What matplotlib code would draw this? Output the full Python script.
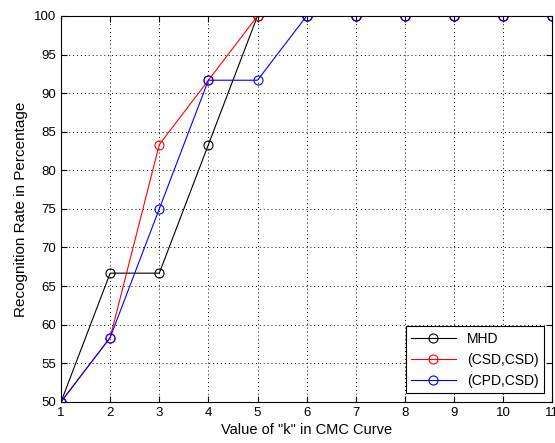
import matplotlib

matplotlib.use("Agg")
import matplotlib.pyplot as plt

k = [1, 2, 3, 4, 5, 6, 7, 8, 9, 10, 11]
mhd = [50, 66.67, 66.67, 83.33, 100, 100, 100, 100, 100, 100, 100]
csd_csd = [50, 58.33, 83.33, 91.67, 100, 100, 100, 100, 100, 100, 100]
cpd_csd = [50, 58.33, 75, 91.67, 91.67, 100, 100, 100, 100, 100, 100]

plt.rcParams.update({
    "font.family": ["Liberation Sans", "DejaVu Sans"],
    "font.size": 9.5,
})

fig = plt.figure(figsize=(5.55, 4.43), dpi=100)
ax = fig.add_axes([0.110, 0.093, 0.885, 0.871])

style = dict(marker="o", markersize=6.5, markerfacecolor="none", lw=0.8, mew=0.8)
ax.plot(k, mhd, color="black", label="MHD", **style)
ax.plot(k, csd_csd, color="red", label="(CSD,CSD)", **style)
ax.plot(k, cpd_csd, color="blue", label="(CPD,CSD)", **style)

ax.set_xlim(1, 11)
ax.set_ylim(50, 100)
ax.set_xticks(k)
ax.set_yticks(range(50, 101, 5))
ax.tick_params(direction="in", top=True, right=True, length=4, width=0.8)
ax.grid(True, color="black", ls=(0, (1, 3)), lw=0.7)
for s in ax.spines.values():
    s.set_linewidth(0.8)

ax.set_xlabel('Value of "k" in CMC Curve', fontsize=10.5, labelpad=3)
ax.set_ylabel("Recognition Rate in Percentage", fontsize=11, labelpad=4)

leg = ax.legend(loc="lower right", fancybox=False, framealpha=1,
                edgecolor="black", borderaxespad=0.6, handlelength=3.2,
                labelspacing=0.5, borderpad=0.4, fontsize=10)
leg.get_frame().set_linewidth(0.8)

fig.savefig("out.png", dpi=100)
